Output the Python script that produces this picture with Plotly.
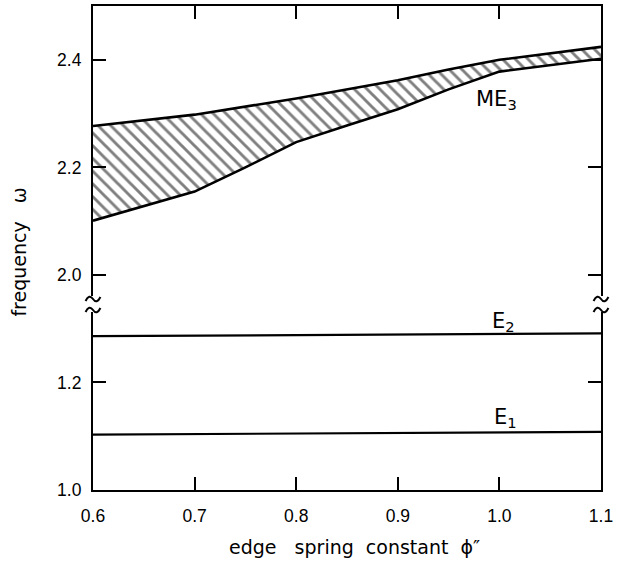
import plotly.graph_objects as go

# ---------------- data ----------------
x_tick_vals = [0.6, 0.7, 0.8, 0.9, 1.0, 1.1]
x_tick_text = ["0.6", "0.7", "0.8", "0.9", "1.0", "1.1"]
y_low_tick_vals = [1.0, 1.2]
y_low_tick_text = ["1.0", "1.2"]
y_high_tick_vals = [2.0, 2.2, 2.4]
y_high_tick_text = ["2.0", "2.2", "2.4"]

# ME3 band boundaries
me3_upper_x = [0.6, 0.7, 0.8, 0.85, 0.9, 0.95, 1.0, 1.1]
me3_upper_y = [2.277, 2.298, 2.328, 2.345, 2.362, 2.382, 2.400, 2.424]
me3_lower_x = [0.6, 0.7, 0.75, 0.8, 0.85, 0.9, 0.95, 1.0, 1.1]
me3_lower_y = [2.101, 2.155, 2.200, 2.247, 2.278, 2.308, 2.345, 2.378, 2.402]

# flat edge modes
e_x = [0.6, 1.1]
e1_y = [1.103, 1.108]
e2_y = [1.286, 1.291]

# curve labels: (text, x, y)
label_me3 = ("ME<sub>3</sub>", 0.997, 2.325)
label_e2 = ("E<sub>2</sub>", 1.004, 1.313)
label_e1 = ("E<sub>1</sub>", 1.006, 1.133)

x_title = "edge   spring  constant  ϕ″"
y_title = "frequency   ω"

# ---------------- layout geometry ----------------
W, H = 619, 563
ML, MR, MT, MB = 93, 14, 6, 73
PW, PH = W - ML - MR, H - MT - MB

upper_domain = [0.40083, 1.0]
lower_domain = [0.0, 0.36777]
upper_range = [1.9609, 2.5]
lower_range = [1.0, 1.3309]

BLACK = "black"
tick_font = dict(family="Liberation Sans, Arial, sans-serif", size=17.5, color=BLACK)
title_font = dict(family="DejaVu Sans, sans-serif", size=19, color=BLACK)
label_font = dict(family="DejaVu Sans, sans-serif", size=21, color=BLACK)

fig = go.Figure()

# hatched band
poly_x = me3_upper_x + me3_lower_x[::-1]
poly_y = me3_upper_y + me3_lower_y[::-1]
fig.add_trace(go.Scatter(
    x=poly_x, y=poly_y, xaxis="x2", yaxis="y2", mode="lines",
    line=dict(width=0, color=BLACK), fill="toself", fillcolor="white",
    fillpattern=dict(shape="\\", fgcolor=BLACK, bgcolor="white", size=9, solidity=0.32),
    hoverinfo="skip"))
fig.add_trace(go.Scatter(x=me3_upper_x, y=me3_upper_y, xaxis="x2", yaxis="y2",
                         mode="lines", line=dict(color=BLACK, width=2.6)))
fig.add_trace(go.Scatter(x=me3_lower_x, y=me3_lower_y, xaxis="x2", yaxis="y2",
                         mode="lines", line=dict(color=BLACK, width=2.6)))

# E1, E2
fig.add_trace(go.Scatter(x=e_x, y=e2_y, mode="lines", line=dict(color=BLACK, width=2.2)))
fig.add_trace(go.Scatter(x=e_x, y=e1_y, mode="lines", line=dict(color=BLACK, width=2.2)))

axis_common = dict(showgrid=False, zeroline=False, showline=True, linecolor=BLACK,
                   linewidth=2.2, ticks="inside", ticklen=13, tickwidth=2, tickcolor=BLACK,
                   tickfont=tick_font)

fig.update_layout(
    width=W, height=H,
    margin=dict(l=ML, r=MR, t=MT, b=MB),
    paper_bgcolor="white", plot_bgcolor="white",
    showlegend=False,
    xaxis=dict(axis_common, range=[0.6, 1.1], anchor="y", domain=[0, 1],
               tickvals=x_tick_vals, ticktext=x_tick_text, ticklabelstandoff=9),
    xaxis2=dict(axis_common, range=[0.6, 1.1], anchor="y2", side="top", matches="x",
                domain=[0, 1], tickvals=x_tick_vals, showticklabels=False),
    yaxis=dict(axis_common, range=lower_range, domain=lower_domain, anchor="x",
               mirror="ticks", tickvals=y_low_tick_vals, ticktext=y_low_tick_text,
               ticklabelstandoff=6),
    yaxis2=dict(axis_common, range=upper_range, domain=upper_domain, anchor="x2",
                mirror="ticks", tickvals=y_high_tick_vals, ticktext=y_high_tick_text,
                ticklabelstandoff=6),
)

# curve labels
for (txt, lx, ly), (xr, yr) in [(label_me3, ("x2", "y2")), (label_e2, ("x", "y")),
                                (label_e1, ("x", "y"))]:
    fig.add_annotation(text=txt, x=lx, y=ly, xref=xr, yref=yr, showarrow=False,
                       font=label_font, xanchor="center", yanchor="middle")

# axis titles
def px_to_paper(px, py):
    return (px - ML) / PW, (H - MB - py) / PH

tx, ty = px_to_paper(357, 547)
fig.add_annotation(text=x_title, x=tx, y=ty, xref="paper", yref="paper",
                   showarrow=False, font=title_font, xanchor="center", yanchor="middle")
tx, ty = px_to_paper(18, 252)
fig.add_annotation(text=y_title, x=tx, y=ty, xref="paper", yref="paper",
                   showarrow=False, font=title_font, textangle=-90,
                   xanchor="center", yanchor="middle")

# axis-break tildes on both frame edges
def tilde(cx, cy):
    pts = [(cx - 7.5, cy + 2), (cx - 3.8, cy - 5.5), (cx, cy), (cx + 3.8, cy + 5.5), (cx + 7.5, cy - 2)]
    p = [px_to_paper(a, b) for a, b in pts]
    return ("M {0[0]},{0[1]} Q {1[0]},{1[1]} {2[0]},{2[1]} Q {3[0]},{3[1]} {4[0]},{4[1]}"
            .format(*p))

for cx in (ML, ML + PW):
    for cy in (299, 310):
        fig.add_shape(type="path", path=tilde(cx, cy), xref="paper", yref="paper",
                      line=dict(color=BLACK, width=2))

fig.write_html("out.html", config={"displayModeBar": False},
               post_script="document.body.style.margin='0';document.body.style.overflow='hidden';")
